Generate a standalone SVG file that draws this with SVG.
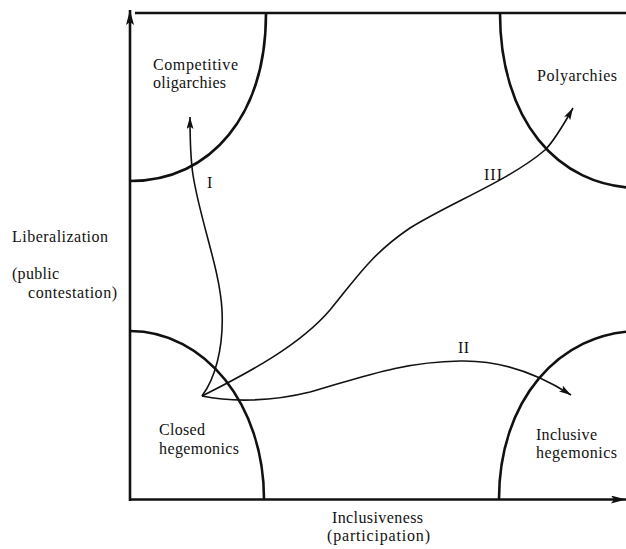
<svg xmlns="http://www.w3.org/2000/svg" width="626" height="549" viewBox="0 0 626 549">
<style>
.t{font-family:"Liberation Serif","Times New Roman",serif;font-size:16px;fill:#111}
.arc{fill:none;stroke:#111;stroke-width:2.6}
.ax{fill:none;stroke:#111;stroke-width:2.6}
.path{fill:none;stroke:#111;stroke-width:1.6}
</style>
<defs>
<marker id="axArrow" markerUnits="userSpaceOnUse" markerWidth="16" markerHeight="8" refX="15" refY="4" orient="auto">
<path d="M0,0 L15,4 L0,8 L3,4 z" fill="#111"/>
</marker>
<marker id="arrow" markerUnits="userSpaceOnUse" markerWidth="13" markerHeight="7" refX="12" refY="3.5" orient="auto">
<path d="M0,0 L12,3.5 L0,7 L2.5,3.5 z" fill="#111"/>
</marker>
</defs>
<g id="axes">
<path class="ax" d="M130,501 L130,10" marker-end="url(#axArrow)"/>
<path class="ax" d="M129,499.5 L626,499.5" marker-end="url(#axArrow)"/>
<path class="ax" d="M135,13 L626,13"/>
<text class="t" x="12" y="242" textLength="96">Liberalization</text>
<text class="t" x="12" y="279" textLength="47">(public</text>
<text class="t" x="28" y="298" textLength="89">contestation)</text>
<text class="t" x="332" y="523" textLength="91">Inclusiveness</text>
<text class="t" x="327" y="541" textLength="103">(participation)</text>
</g>
<g id="competitive-oligarchies">
<path class="arc" d="M266,13 C266,114 212,181 130,181"/>
<text class="t" x="153" y="70" textLength="85">Competitive</text>
<text class="t" x="153" y="88" textLength="73">oligarchies</text>
</g>
<g id="polyarchies">
<path class="arc" d="M500,13 C500,118 556,188 640,188"/>
<text class="t" x="537" y="81" textLength="80">Polyarchies</text>
</g>
<g id="closed-hegemonics">
<path class="arc" d="M130,331 C205,331 264,405 264,499"/>
<text class="t" x="159" y="435" textLength="46">Closed</text>
<text class="t" x="159" y="454" textLength="80">hegemonics</text>
</g>
<g id="inclusive-hegemonics">
<path class="arc" d="M499,499 C499,402 558,331 640,331"/>
<text class="t" x="536" y="440" textLength="61">Inclusive</text>
<text class="t" x="536" y="458" textLength="81">hegemonics</text>
</g>
<g id="connectors">
<path class="path" d="M202,396 C214,380 224,350 222,310 C220,270 200,220 193,175 C190,155 190,140 190,117" marker-end="url(#arrow)"/>
<path class="path" d="M202,396 C250,372 300,345 330,310 C355,280 370,255 410,228 C450,203 510,180 545,150 C555,140 564,124 573,108" marker-end="url(#arrow)"/>
<path class="path" d="M202,396 C230,402 270,402 310,392 C360,378 400,362 460,361 C500,360 535,372 571,395" marker-end="url(#arrow)"/>
<text class="t" x="207" y="188">I</text>
<text class="t" x="484" y="180" textLength="18">III</text>
<text class="t" x="458" y="353" textLength="11">II</text>
</g>
</svg>
